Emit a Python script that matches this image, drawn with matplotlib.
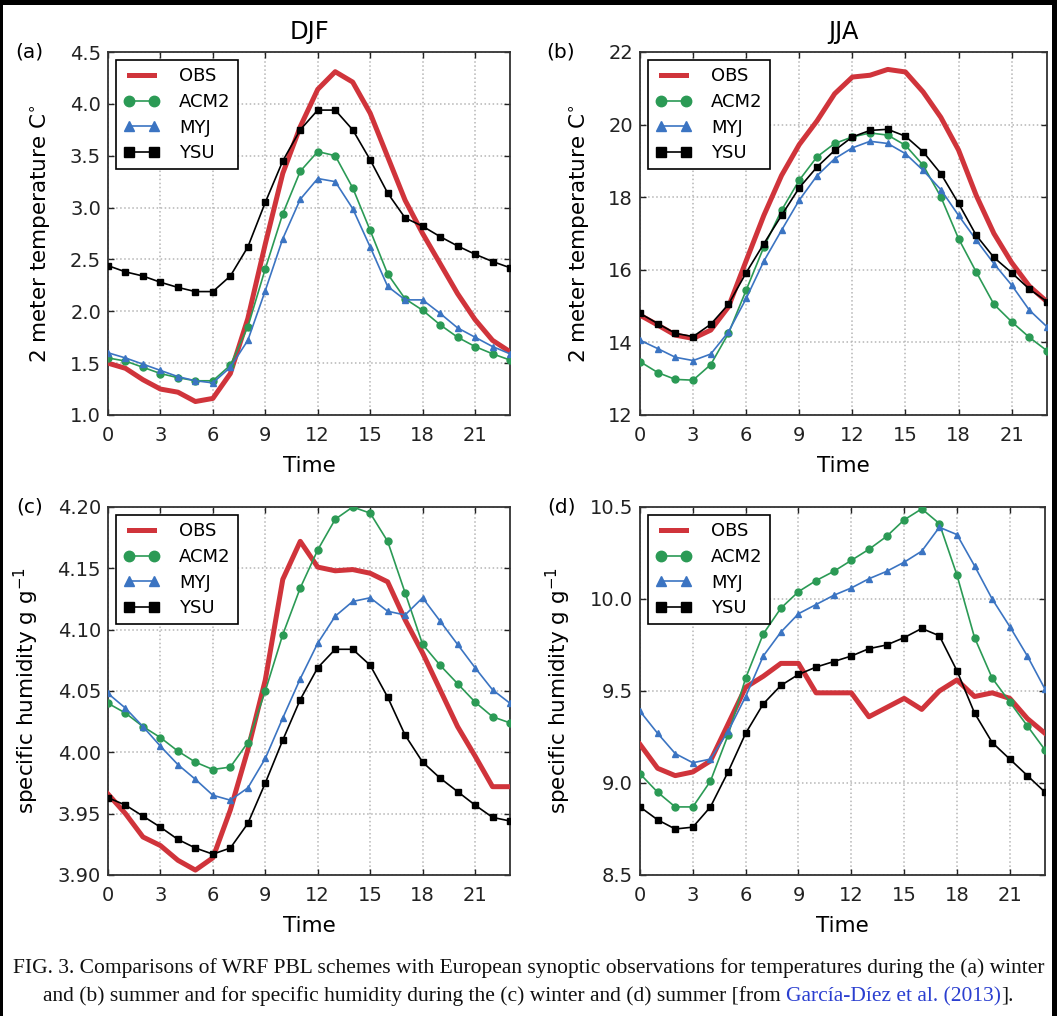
import matplotlib
matplotlib.use("Agg")
import matplotlib.pyplot as plt
from matplotlib.patches import Rectangle

hours = list(range(24))
series_names = ["OBS", "ACM2", "MYJ", "YSU"]

# (a) DJF 2 m temperature
djf_t_obs = [1.50, 1.45, 1.34, 1.25, 1.22, 1.13, 1.16, 1.40, 1.93, 2.65, 3.33, 3.78,
             4.14, 4.31, 4.21, 3.91, 3.49, 3.07, 2.75, 2.46, 2.17, 1.92, 1.72, 1.61]
djf_t_acm2 = [1.55, 1.52, 1.46, 1.40, 1.36, 1.33, 1.33, 1.48, 1.85, 2.41, 2.94, 3.35,
              3.54, 3.50, 3.19, 2.78, 2.36, 2.12, 2.01, 1.87, 1.75, 1.66, 1.59, 1.53]
djf_t_myj = [1.60, 1.55, 1.49, 1.43, 1.37, 1.33, 1.31, 1.46, 1.72, 2.20, 2.70, 3.08,
             3.28, 3.25, 2.99, 2.62, 2.24, 2.11, 2.11, 1.98, 1.84, 1.75, 1.66, 1.59]
djf_t_ysu = [2.44, 2.38, 2.34, 2.28, 2.23, 2.19, 2.19, 2.34, 2.62, 3.05, 3.45, 3.75,
             3.94, 3.94, 3.75, 3.46, 3.14, 2.90, 2.82, 2.72, 2.63, 2.55, 2.48, 2.42]

# (b) JJA 2 m temperature
jja_t_obs = [14.75, 14.48, 14.20, 14.11, 14.34, 14.98, 16.25, 17.50, 18.60, 19.45, 20.10, 20.85,
             21.31, 21.36, 21.52, 21.45, 20.90, 20.20, 19.30, 18.05, 17.00, 16.20, 15.55, 15.12]
jja_t_acm2 = [13.47, 13.17, 12.98, 12.96, 13.39, 14.25, 15.44, 16.63, 17.64, 18.47, 19.11, 19.48,
              19.66, 19.77, 19.71, 19.43, 18.88, 18.01, 16.86, 15.94, 15.05, 14.57, 14.14, 13.77]
jja_t_myj = [14.06, 13.83, 13.59, 13.50, 13.68, 14.29, 15.21, 16.24, 17.09, 17.92, 18.59, 19.06,
             19.36, 19.54, 19.48, 19.20, 18.74, 18.21, 17.50, 16.82, 16.17, 15.58, 14.89, 14.43]
jja_t_ysu = [14.80, 14.52, 14.25, 14.16, 14.50, 15.05, 15.92, 16.72, 17.50, 18.26, 18.83, 19.29,
             19.66, 19.84, 19.87, 19.68, 19.25, 18.65, 17.83, 16.95, 16.34, 15.92, 15.47, 15.12]

# (c) DJF specific humidity
djf_q_obs = [3.966, 3.950, 3.931, 3.924, 3.912, 3.904, 3.914, 3.953, 4.002, 4.059, 4.141, 4.172,
             4.151, 4.148, 4.149, 4.146, 4.139, 4.108, 4.081, 4.051, 4.021, 3.997, 3.972, 3.972]
djf_q_acm2 = [4.040, 4.032, 4.021, 4.012, 4.001, 3.992, 3.986, 3.988, 4.008, 4.050, 4.096, 4.134,
              4.165, 4.190, 4.200, 4.195, 4.172, 4.130, 4.088, 4.071, 4.056, 4.041, 4.029, 4.024]
djf_q_myj = [4.048, 4.036, 4.021, 4.005, 3.990, 3.978, 3.965, 3.961, 3.971, 3.995, 4.028, 4.060,
             4.089, 4.111, 4.123, 4.126, 4.115, 4.112, 4.126, 4.107, 4.088, 4.069, 4.051, 4.040]
djf_q_ysu = [3.963, 3.957, 3.948, 3.939, 3.929, 3.922, 3.917, 3.922, 3.942, 3.975, 4.010, 4.043,
             4.069, 4.084, 4.084, 4.071, 4.045, 4.014, 3.992, 3.979, 3.968, 3.957, 3.947, 3.944]

# (d) JJA specific humidity
jja_q_obs = [9.21, 9.08, 9.04, 9.06, 9.12, 9.32, 9.52, 9.58, 9.65, 9.65, 9.49, 9.49,
             9.49, 9.36, 9.41, 9.46, 9.40, 9.50, 9.56, 9.47, 9.49, 9.46, 9.35, 9.27]
jja_q_acm2 = [9.05, 8.95, 8.87, 8.87, 9.01, 9.26, 9.57, 9.81, 9.95, 10.04, 10.10, 10.15,
              10.21, 10.27, 10.34, 10.43, 10.49, 10.41, 10.13, 9.79, 9.57, 9.44, 9.31, 9.18]
jja_q_myj = [9.39, 9.27, 9.16, 9.11, 9.13, 9.28, 9.47, 9.69, 9.82, 9.92, 9.97, 10.02,
             10.06, 10.11, 10.15, 10.20, 10.26, 10.39, 10.35, 10.18, 10.00, 9.85, 9.69, 9.51]
jja_q_ysu = [8.87, 8.80, 8.75, 8.76, 8.87, 9.06, 9.27, 9.43, 9.53, 9.59, 9.63, 9.66,
             9.69, 9.73, 9.75, 9.79, 9.84, 9.80, 9.61, 9.38, 9.22, 9.13, 9.04, 8.95]

xticks = [0, 3, 6, 9, 12, 15, 18, 21]
yticks_a = [1.0, 1.5, 2.0, 2.5, 3.0, 3.5, 4.0, 4.5]
yticks_b = [12, 14, 16, 18, 20, 22]
yticks_c = [3.90, 3.95, 4.00, 4.05, 4.10, 4.15, 4.20]
yticks_d = [8.5, 9.0, 9.5, 10.0, 10.5]

RED = "#d0343b"
GREEN = "#2b9a55"
BLUE = "#3b74c2"

W, H = 1057, 1016
fig = plt.figure(figsize=(W / 100, H / 100), dpi=100, facecolor="black")
# white page inside the black scan border
fig.patches.append(Rectangle((3 / W, 0), 1049 / W, 1 - 5 / H, transform=fig.transFigure,
                             facecolor="white", edgecolor="none", zorder=-10))


def px_rect(left, top, right, bottom):
    return [left / W, 1 - bottom / H, (right - left) / W, (bottom - top) / H]


def panel(rect, obs, acm2, myj, ysu, yticks, fmt, ylabel, tag, title=None):
    ax = fig.add_axes(rect)
    ax.plot(hours, obs, color=RED, lw=3.6, label="OBS", zorder=3)
    ax.plot(hours, acm2, color=GREEN, lw=1.2, marker="o", ms=5, mfc=GREEN, mec=GREEN,
            label="ACM2", zorder=4)
    ax.plot(hours, myj, color=BLUE, lw=1.2, marker="^", ms=5, mfc=BLUE, mec=BLUE,
            label="MYJ", zorder=4)
    ax.plot(hours, ysu, color="black", lw=1.2, marker="s", ms=5, mfc="black", mec="black",
            label="YSU", zorder=5)
    ax.set_xlim(0, 23)
    ax.set_ylim(yticks[0], yticks[-1])
    ax.set_xticks(xticks)
    ax.set_yticks(yticks)
    ax.set_yticklabels([fmt.format(v) for v in yticks])
    ax.grid(True, color="#b5b5b5", linestyle=":", lw=1.1)
    ax.tick_params(direction="in", top=True, right=True, length=4, width=1,
                   labelsize=14, colors="#222222")
    ax.tick_params(axis="x", pad=8)
    ax.tick_params(axis="y", pad=5)
    for s in ax.spines.values():
        s.set_linewidth(1.3)
        s.set_color("#333333")
    ax.set_xlabel("Time", fontsize=15.5, labelpad=8)
    ax.set_ylabel(ylabel, fontsize=15.5, labelpad=12)
    if title:
        ax.set_title(title, fontsize=17.5, pad=9)
    ax.text(-0.195, 1.0, tag, transform=ax.transAxes, fontsize=14.5, va="center", ha="center")
    leg = ax.legend(loc="upper left", fontsize=13, numpoints=2, fancybox=False,
                    framealpha=1, edgecolor="black", handlelength=2.0, handletextpad=1.1,
                    labelspacing=0.42, borderaxespad=0.45, borderpad=0.4, markerscale=1.5)
    leg.get_frame().set_linewidth(1.2)
    return ax


temp_label = "2 meter temperature C$^{\\circ}$"
hum_label = "specific humidity g g$^{-1}$"

panel(px_rect(108, 52, 510, 415), djf_t_obs, djf_t_acm2, djf_t_myj, djf_t_ysu,
      yticks_a, "{:.1f}", temp_label, "(a)", "DJF")
panel(px_rect(640, 52, 1047, 415), jja_t_obs, jja_t_acm2, jja_t_myj, jja_t_ysu,
      yticks_b, "{:d}", temp_label, "(b)", "JJA")
panel(px_rect(108, 507, 510, 875), djf_q_obs, djf_q_acm2, djf_q_myj, djf_q_ysu,
      yticks_c, "{:.2f}", hum_label, "(c)")
panel(px_rect(640, 507, 1045, 875), jja_q_obs, jja_q_acm2, jja_q_myj, jja_q_ysu,
      yticks_d, "{:.1f}", hum_label, "(d)")

# caption
cap_size = 15.5
cap_font = dict(family="Liberation Serif", fontsize=cap_size, color="#111111")
fig.text(0.5, 1 - 968 / H, "FIG. 3. Comparisons of WRF PBL schemes with European synoptic "
         "observations for temperatures during the (a) winter", ha="center", va="center",
         **cap_font)
base2 = 1 - 1001 / H
t1 = fig.text(93 / W, base2, "and (b) summer and for specific humidity during the (c) "
              "winter and (d) summer [from ", ha="left", va="baseline", **cap_font)
t2 = fig.text(0, base2, "García-Díez et al. (2013)", ha="left", va="baseline",
              family="Liberation Serif", fontsize=cap_size, color="#2b3fd0")
t3 = fig.text(0, base2, "].", ha="left", va="baseline", **cap_font)
fig.canvas.draw()
r = fig.canvas.get_renderer()
b1 = t1.get_window_extent(r)
t2.set_position((b1.x1 / W, base2))
b2 = t2.get_window_extent(r)
t3.set_position((b2.x1 / W, base2))
b3 = t3.get_window_extent(r)
# center the second line
shift = ((W - (b3.x1 - b1.x0)) / 2 - b1.x0) / W
for t in (t1, t2, t3):
    x, y = t.get_position()
    t.set_position((x + shift, y))

fig.savefig("out.png", dpi=100, facecolor=fig.get_facecolor())
